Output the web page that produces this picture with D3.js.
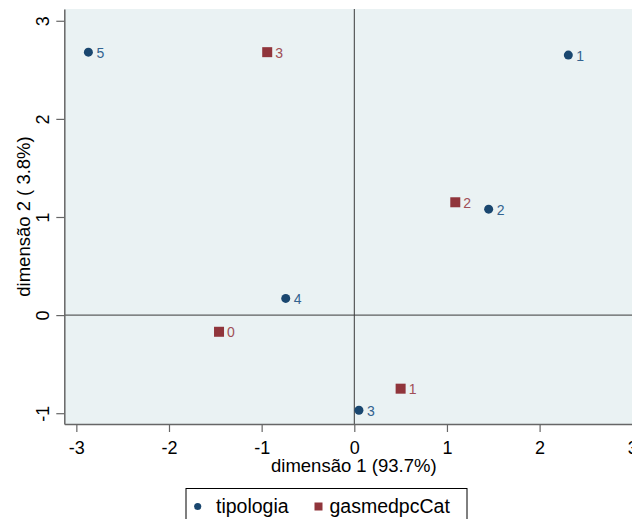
<!DOCTYPE html>
<html>
<head>
<meta charset="utf-8">
<script src="https://cdn.jsdelivr.net/npm/d3@7"></script>
<style>
  body { margin: 0; background: #fff; }
  text { font-family: "Liberation Sans", Arial, sans-serif; }
</style>
</head>
<body>
<div id="chart"></div>
<script>
// data
var tipLabels = ["5", "1", "2", "4", "3"];
var tipX = [-2.87, 2.31, 1.45, -0.74, 0.05];
var tipY = [2.68, 2.65, 1.08, 0.17, -0.97];

var gasLabels = ["3", "2", "0", "1"];
var gasX = [-0.94, 1.09, -1.46, 0.50];
var gasY = [2.68, 1.15, -0.17, -0.75];

var xTicks = [-3, -2, -1, 0, 1, 2, 3];
var yTicks = [-1, 0, 1, 2, 3];

//setup spacing size
var svg_w = 632, svg_h = 519;
var plot = {left: 64.3, right: 644.3, top: 9, bottom: 424};

var navy = "#1a476f", maroon = "#90353b";

var svg = d3.select("#chart").append("svg")
    .attr("width", svg_w)
    .attr("height", svg_h);

var xScale = d3.scaleLinear().domain([-3.13, 3.13]).range([plot.left, plot.right]);
var yScale = d3.scaleLinear().domain([-1.11, 3.12]).range([plot.bottom, plot.top]);

// plain hyphen for negatives, like the reference
var fmt = function(d) { return String(d); };

//plot region
svg.append("rect")
    .attr("x", plot.left).attr("y", plot.top)
    .attr("width", plot.right - plot.left).attr("height", plot.bottom - plot.top)
    .attr("fill", "#eaf2f3");

//zero lines
svg.append("line")
    .attr("x1", plot.left).attr("x2", plot.right)
    .attr("y1", yScale(0)).attr("y2", yScale(0))
    .attr("stroke", "#3a3a3a").attr("stroke-width", 1);
svg.append("line")
    .attr("x1", xScale(0)).attr("x2", xScale(0))
    .attr("y1", plot.top).attr("y2", plot.bottom)
    .attr("stroke", "#3a3a3a").attr("stroke-width", 1);

//axes
var xAxis = svg.append("g")
    .attr("transform", "translate(0," + plot.bottom + ")")
    .call(d3.axisBottom(xScale).tickValues(xTicks).tickSize(8).tickSizeOuter(0).tickFormat(fmt));
xAxis.select(".domain").attr("stroke", "#666").attr("stroke-width", 1.5);
xAxis.selectAll(".tick line").attr("stroke", "#666").attr("stroke-width", 1.2);
xAxis.selectAll(".tick text")
    .attr("y", 30).attr("dy", 0)
    .attr("fill", "#000")
    .style("font-size", "18px")
    .style("font-family", "'Liberation Sans', Arial, sans-serif");

var yAxis = svg.append("g")
    .attr("transform", "translate(" + plot.left + ",0)")
    .call(d3.axisLeft(yScale).tickValues(yTicks).tickSize(8).tickSizeOuter(0).tickFormat(fmt));
yAxis.select(".domain").attr("stroke", "#666").attr("stroke-width", 1.5);
yAxis.selectAll(".tick line").attr("stroke", "#666").attr("stroke-width", 1.2);
yAxis.selectAll(".tick text")
    .attr("x", null).attr("dy", 0)
    .attr("transform", "translate(-15,0) rotate(-90)")
    .attr("text-anchor", "middle")
    .attr("fill", "#000")
    .style("font-size", "18px")
    .style("font-family", "'Liberation Sans', Arial, sans-serif");

//axis titles
svg.append("text")
    .attr("x", (plot.left + plot.right) / 2 - 0.5)
    .attr("y", 471.5)
    .attr("text-anchor", "middle")
    .style("font-size", "18.5px")
    .text("dimensão 1 (93.7%)");

svg.append("text")
    .attr("transform", "translate(30," + (plot.top + plot.bottom) / 2 + ") rotate(-90)")
    .attr("text-anchor", "middle")
    .style("font-size", "18.5px")
    .text("dimensão 2 ( 3.8%)");

//build point records
var tip = tipLabels.map(function(d, i) { return {lab: d, x: tipX[i], y: tipY[i]}; });
var gas = gasLabels.map(function(d, i) { return {lab: d, x: gasX[i], y: gasY[i]}; });

//tipologia points
svg.selectAll(".tip").data(tip).enter().append("circle")
    .attr("class", "tip")
    .attr("cx", function(d) { return xScale(d.x); })
    .attr("cy", function(d) { return yScale(d.y); })
    .attr("r", 4.5)
    .attr("fill", navy);
svg.selectAll(".tiplab").data(tip).enter().append("text")
    .attr("class", "tiplab")
    .attr("x", function(d) { return xScale(d.x) + 8; })
    .attr("y", function(d) { return yScale(d.y) + 5.5; })
    .attr("fill", "#33638f")
    .style("font-size", "14px")
    .text(function(d) { return d.lab; });

//gasmedpcCat points
svg.selectAll(".gas").data(gas).enter().append("rect")
    .attr("class", "gas")
    .attr("x", function(d) { return xScale(d.x) - 5; })
    .attr("y", function(d) { return yScale(d.y) - 5; })
    .attr("width", 10).attr("height", 10)
    .attr("fill", maroon);
svg.selectAll(".gaslab").data(gas).enter().append("text")
    .attr("class", "gaslab")
    .attr("x", function(d) { return xScale(d.x) + 8; })
    .attr("y", function(d) { return yScale(d.y) + 5.5; })
    .attr("fill", "#a04f56")
    .style("font-size", "14px")
    .text(function(d) { return d.lab; });

//legend
svg.append("rect")
    .attr("x", 186).attr("y", 488.5)
    .attr("width", 281).attr("height", 40)
    .attr("fill", "#fff").attr("stroke", "#000").attr("stroke-width", 1);
svg.append("circle")
    .attr("cx", 197.7).attr("cy", 506.5).attr("r", 3.6)
    .attr("fill", navy);
svg.append("text")
    .attr("x", 216).attr("y", 513)
    .style("font-size", "19.5px")
    .text("tipologia");
svg.append("rect")
    .attr("x", 314.5).attr("y", 502.5).attr("width", 8).attr("height", 8)
    .attr("fill", maroon);
svg.append("text")
    .attr("x", 329.5).attr("y", 513)
    .style("font-size", "19.5px")
    .text("gasmedpcCat");
</script>
</body>
</html>
